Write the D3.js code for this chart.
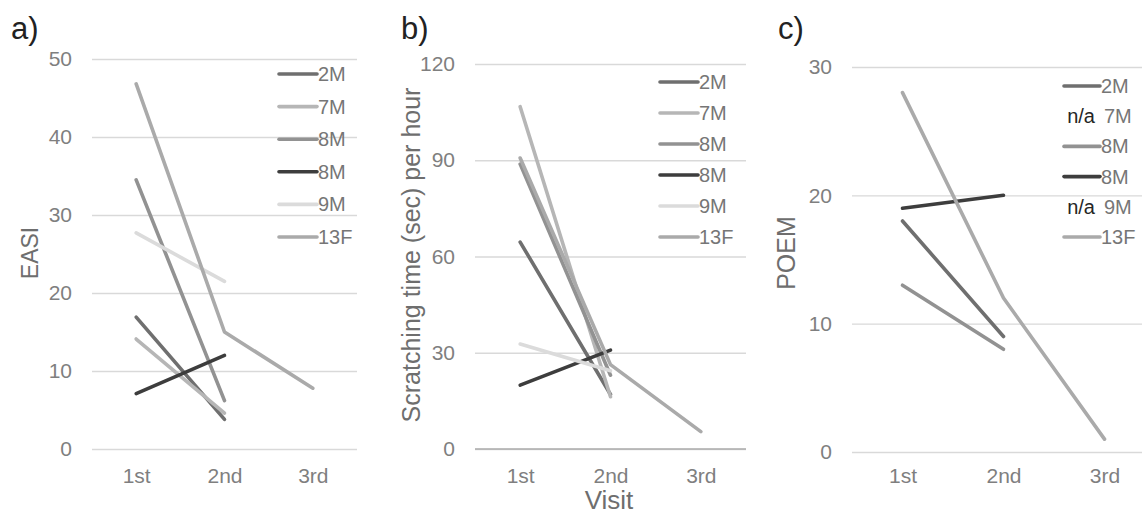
<!DOCTYPE html>
<html>
<head>
<meta charset="utf-8">
<script src="https://cdn.jsdelivr.net/npm/d3@7"></script>
<style>
  body { margin: 0; background: #fff; }
  svg { font-family: "Liberation Sans", Arial, sans-serif; }
</style>
</head>
<body>
<div id="chart"></div>
<script>
// Visits on the x axis and the six subjects (legend order)
const visits = ["1st", "2nd", "3rd"];
const subjects = ["2M", "7M", "8M", "8M", "9M", "13F"];

// EASI score per visit (one array per subject)
const easiValues = [
    [16.9, 3.8],
    [14.1, 4.6],
    [34.5, 6.2],
    [7.1, 12.0],
    [27.7, 21.5],
    [46.8, 15.0, 7.8]
];

// Scratching time (sec) per hour
const scratchValues = [
    [64.5, 17.0],
    [106.7, 16.3],
    [88.8, 23.0],
    [19.9, 30.8],
    [32.7, 24.4],
    [90.7, 26.3, 5.4]
];

// POEM score (null = n/a)
const poemValues = [
    [18, 9],
    null,
    [13, 8],
    [19, 20],
    null,
    [28, 12, 1]
];

const easiTicks = [0, 10, 20, 30, 40, 50];
const scratchTicks = [0, 30, 60, 90, 120];
const poemTicks = [0, 10, 20, 30];

// Grey shade of each subject
const color = d3.scaleOrdinal()
    .domain(d3.range(subjects.length))
    .range(["#6f6f6f", "#b6b6b6", "#929292", "#3d3d3d", "#dbdbdb", "#aaaaaa"]);

const svg = d3.select("#chart")
    .append("svg")
    .attr("width", 1142)
    .attr("height", 516);

function drawPanel(opt) {
    const x = d3.scalePoint()
        .domain(visits)
        .range(opt.xRange)
        .padding(0.5);

    const y = d3.scaleLinear()
        .domain([0, d3.max(opt.ticks)])
        .range([opt.yBottom, opt.yTop]);

    const width = opt.xRange[1] - opt.xRange[0];

    // Gridlines and y tick labels
    svg.append("g")
        .attr("transform", `translate(${opt.xRange[0]},0)`)
        .call(d3.axisLeft(y).tickValues(opt.ticks).tickSize(-width).tickPadding(20))
        .call(a => a.select(".domain").remove())
        .call(a => a.selectAll("line").attr("stroke", "#d9d9d9").attr("stroke-width", 1.3))
        .call(a => a.selectAll("text")
            .attr("fill", "#7f7f7f")
            .attr("font-size", 21)
            .attr("font-family", "Liberation Sans, Arial, sans-serif"));

    // Darker baseline (panel b only)
    if (opt.baseline) {
        svg.append("line")
            .attr("x1", opt.xRange[0])
            .attr("x2", opt.xRange[1])
            .attr("y1", y(0))
            .attr("y2", y(0))
            .attr("stroke", "#ababab")
            .attr("stroke-width", 1.4);
    }

    // x tick labels
    svg.append("g")
        .attr("transform", `translate(0,${y(0)})`)
        .call(d3.axisBottom(x).tickSize(0).tickPadding(opt.xPad))
        .call(a => a.select(".domain").remove())
        .call(a => a.selectAll("text")
            .attr("fill", "#7f7f7f")
            .attr("font-size", 21)
            .attr("font-family", "Liberation Sans, Arial, sans-serif"));

    // Y axis title
    svg.append("text")
        .attr("transform", `translate(${opt.titleX},${opt.titleY}) rotate(-90)`)
        .attr("text-anchor", "middle")
        .attr("dominant-baseline", "central")
        .attr("fill", "#6e6e6e")
        .attr("font-size", opt.titleSize)
        .text(opt.title);

    // Panel letter
    svg.append("text")
        .attr("x", opt.letterX)
        .attr("y", 39)
        .attr("fill", "#222")
        .attr("font-size", 31)
        .text(opt.letter);

    // Lines
    const line = d3.line()
        .x((d, i) => x(visits[i]))
        .y(d => y(d));

    opt.values.forEach((vals, i) => {
        if (!vals) return;
        svg.append("path")
            .datum(vals)
            .attr("fill", "none")
            .attr("stroke", color(i))
            .attr("stroke-width", 3.6)
            .attr("stroke-linecap", "round")
            .attr("stroke-linejoin", "round")
            .attr("d", line);
    });

    // Legend
    const legend = svg.append("g")
        .attr("transform", `translate(${opt.legendX},${opt.legendY})`);

    subjects.forEach((name, i) => {
        const ly = i * opt.legendStep;
        if (opt.values[i]) {
            legend.append("line")
                .attr("x1", 0)
                .attr("x2", opt.legendLen)
                .attr("y1", ly)
                .attr("y2", ly)
                .attr("stroke", color(i))
                .attr("stroke-width", 3.6)
                .attr("stroke-linecap", "round");
        } else {
            legend.append("text")
                .attr("x", opt.legendLen - 5)
                .attr("y", ly)
                .attr("text-anchor", "end")
                .attr("dominant-baseline", "central")
                .attr("fill", "#262626")
                .attr("font-size", 20)
                .text("n/a");
        }
        legend.append("text")
            .attr("x", opt.legendLen + (opt.values[i] ? 1 : 4))
            .attr("y", ly)
            .attr("dominant-baseline", "central")
            .attr("fill", "#767676")
            .attr("font-size", 20)
            .text(name);
    });
}

drawPanel({
    letter: "a)", letterX: 11,
    values: easiValues, ticks: easiTicks,
    xRange: [92, 357], yBottom: 449, yTop: 59, xPad: 19,
    title: "EASI", titleX: 30, titleY: 253, titleSize: 23,
    legendX: 279, legendY: 74, legendStep: 32.6, legendLen: 38
});

drawPanel({
    letter: "b)", letterX: 401,
    values: scratchValues, ticks: scratchTicks,
    xRange: [475, 746], yBottom: 449, yTop: 64, xPad: 19, baseline: true,
    title: "Scratching time (sec) per hour", titleX: 411, titleY: 255, titleSize: 25,
    legendX: 660, legendY: 82, legendStep: 31, legendLen: 38
});

drawPanel({
    letter: "c)", letterX: 778,
    values: poemValues, ticks: poemTicks,
    xRange: [852, 1155], yBottom: 452, yTop: 67, xPad: 16,
    title: "POEM", titleX: 786, titleY: 253, titleSize: 25,
    legendX: 1064, legendY: 86, legendStep: 30.2, legendLen: 36
});

// Shared x axis title under panel b
svg.append("text")
    .attr("x", 609)
    .attr("y", 509)
    .attr("text-anchor", "middle")
    .attr("fill", "#6e6e6e")
    .attr("font-size", 26)
    .text("Visit");
</script>
</body>
</html>
